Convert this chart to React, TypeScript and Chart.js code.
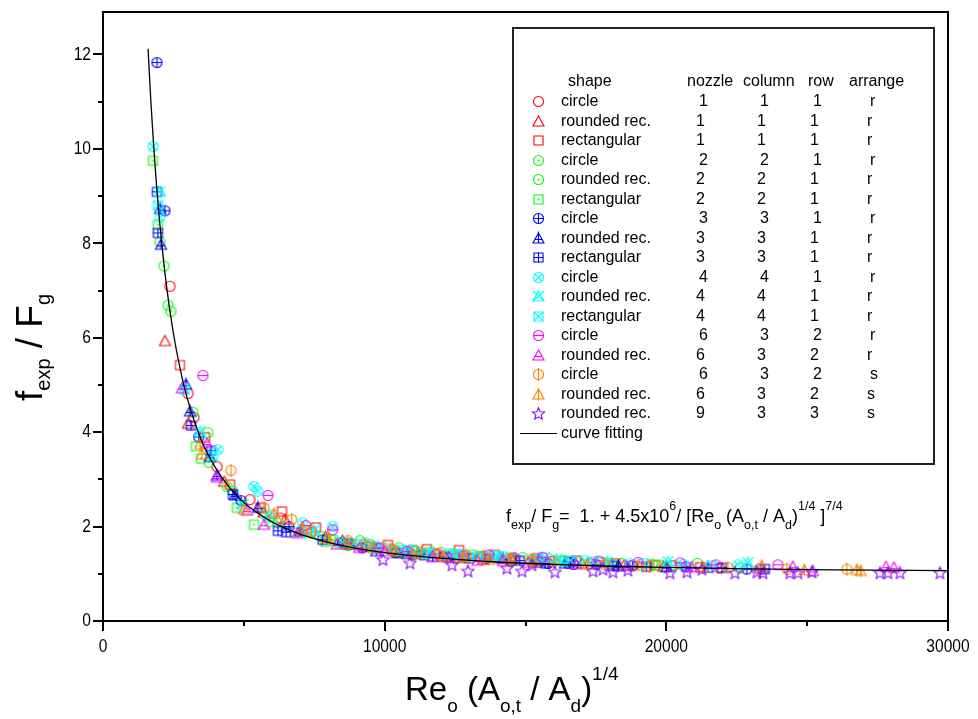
import React, { useEffect, useRef } from 'react';
import { Chart, registerables } from 'chart.js';
Chart.register(...registerables);

// ---------- axis ticks ----------
const xMajorTicks = [0, 10000, 20000, 30000];
const xMinorTicks = [5000, 15000, 25000];
const yMajorTicks = [0, 2, 4, 6, 8, 10, 12];
const yMinorTicks = [1, 3, 5, 7, 9, 11];

// ---------- legend table ----------
const legendShape = ['circle', 'rounded rec.', 'rectangular', 'circle', 'rounded rec.', 'rectangular', 'circle', 'rounded rec.', 'rectangular', 'circle', 'rounded rec.', 'rectangular', 'circle', 'rounded rec.', 'circle', 'rounded rec.', 'rounded rec.'];
const legendNozzle = ['1', '1', '1', '2', '2', '2', '3', '3', '3', '4', '4', '4', '6', '6', '6', '6', '9'];
const legendColumn = ['1', '1', '1', '2', '2', '2', '3', '3', '3', '4', '4', '4', '3', '3', '3', '3', '3'];
const legendRow = ['1', '1', '1', '1', '1', '1', '1', '1', '1', '1', '1', '1', '2', '2', '2', '2', '3'];
const legendArrange = ['r', 'r', 'r', 'r', 'r', 'r', 'r', 'r', 'r', 'r', 'r', 'r', 'r', 'r', 's', 's', 's'];

// ---------- data (x, y) ----------
const redCircle = [[2378, 7.09], [3017, 4.82], [3230, 4.31], [4047, 3.27], [5218, 2.57], [6300, 2.18], [7400, 1.88], [8600, 1.62], [9400, 1.58], [10300, 1.5], [11800, 1.42], [12500, 1.33], [13400, 1.36], [14600, 1.3], [15900, 1.26], [16500, 1.22], [17300, 1.22], [18800, 1.18], [20200, 1.17], [21900, 1.12], [23300, 1.1]];
const redTriangle = [[2200, 5.93], [3017, 4.18], [4300, 2.95], [5700, 2.3], [6461, 2.15], [7900, 1.78], [8500, 1.7], [9300, 1.58], [10500, 1.46], [11200, 1.44], [12600, 1.38], [13500, 1.3], [14100, 1.33], [15500, 1.28], [17000, 1.22], [18500, 1.18], [19900, 1.15]];
const redSquare = [[2733, 5.42], [3620, 3.89], [4508, 2.89], [5600, 2.4], [6354, 2.32], [7562, 1.98], [8800, 1.62], [9500, 1.57], [10117, 1.61], [11000, 1.5], [11500, 1.52], [12637, 1.5], [13900, 1.4], [14500, 1.33], [15400, 1.33], [16800, 1.28], [18200, 1.22], [19600, 1.18], [21200, 1.14]];
const greenCircle = [[2024, 8.03], [2165, 7.52], [2307, 6.69], [2414, 6.56], [3195, 4.42], [3763, 3.36], [4402, 2.85], [5900, 2.1], [7200, 1.92], [8200, 1.72], [8700, 1.6], [9124, 1.7], [10500, 1.55], [11300, 1.4], [12000, 1.45], [13500, 1.38], [14900, 1.34], [15300, 1.27], [16400, 1.28], [18000, 1.22], [19500, 1.2], [21100, 1.22], [22600, 1.12]];
const greenRounded = [[3727, 3.99], [4600, 2.75], [6200, 2.08], [7700, 1.8], [8100, 1.72], [9500, 1.62], [10400, 1.45], [11000, 1.48], [12400, 1.42], [13800, 1.35], [14600, 1.29], [15300, 1.3], [16900, 1.25], [18400, 1.22], [20300, 1.18]];
const greenSquare = [[1775, 9.75], [1950, 8.39], [3301, 3.7], [3479, 3.44], [4757, 2.4], [5360, 2.04], [6800, 1.88], [7900, 1.68], [8400, 1.65], [9900, 1.55], [10700, 1.44], [11600, 1.46], [12600, 1.38], [13100, 1.4], [14500, 1.32], [16200, 1.28], [17700, 1.24], [19703, 1.19]];
const blueCircle = [[1917, 11.83], [2200, 8.69], [3400, 3.9], [4900, 2.55], [6600, 2.0], [8500, 1.66], [9200, 1.55], [10400, 1.45], [11000, 1.4], [12200, 1.35], [13600, 1.32], [14500, 1.27], [15800, 1.22], [16700, 1.2], [17500, 1.2], [18800, 1.17], [20700, 1.15], [22861, 1.1]];
const blueRounded = [[2024, 8.73], [2060, 7.97], [2946, 5.01], [3088, 4.44], [3798, 3.48], [4047, 3.08], [4686, 2.66], [5502, 2.4], [7000, 1.9], [8800, 1.62], [9700, 1.48], [10800, 1.42], [11700, 1.36], [12800, 1.34], [14200, 1.32], [15400, 1.24], [16400, 1.22], [18300, 1.16], [20000, 1.14], [21477, 1.13]];
const blueSquare = [[1917, 9.09], [1950, 8.22], [3124, 4.14], [3833, 3.61], [4615, 2.68], [6212, 1.91], [6500, 1.88], [7800, 1.72], [8700, 1.64], [9700, 1.54], [10400, 1.44], [11400, 1.4], [12100, 1.36], [13000, 1.33], [14800, 1.28], [15700, 1.22], [16600, 1.25], [18100, 1.17], [19300, 1.15], [21974, 1.13], [23500, 1.1]];
const cyanCircle = [[1775, 10.05], [2024, 8.56], [4082, 3.63], [5360, 2.85], [5500, 2.75], [7090, 2.08], [8154, 2.0], [9300, 1.66], [10200, 1.5], [11100, 1.48], [12283, 1.42], [13000, 1.36], [13900, 1.38], [15500, 1.32], [16300, 1.26], [17100, 1.28], [18700, 1.22], [20600, 1.2], [22542, 1.19]];
const cyanRounded = [[2024, 9.09], [3444, 4.01], [4970, 2.46], [6000, 2.2], [7500, 1.92], [8500, 1.66], [9585, 1.59], [10900, 1.5], [11600, 1.44], [12700, 1.42], [13500, 1.37], [14300, 1.35], [15300, 1.31], [16100, 1.3], [17900, 1.25], [20058, 1.25], [22897, 1.23]];
const cyanSquare = [[1950, 8.8], [2900, 4.9], [3900, 3.5], [5800, 2.25], [7300, 1.86], [8900, 1.64], [9700, 1.54], [10600, 1.5], [11500, 1.42], [12500, 1.4], [13300, 1.36], [14000, 1.38], [15700, 1.35], [16600, 1.28], [17400, 1.26], [19200, 1.22], [21600, 1.18]];
const magentaCircle = [[3550, 5.2], [5857, 2.66], [7200, 2.02], [8154, 1.93], [9800, 1.55], [10800, 1.47], [11900, 1.42], [12800, 1.38], [13700, 1.4], [14600, 1.34], [15600, 1.35], [17600, 1.27], [19000, 1.24], [20484, 1.23], [21761, 1.19], [23962, 1.19]];
const magentaRounded = [[2800, 4.93], [3691, 3.76], [4047, 3.04], [5111, 2.34], [5715, 2.04], [6900, 1.86], [8300, 1.62], [9100, 1.55], [10000, 1.48], [11700, 1.36], [12300, 1.35], [13300, 1.28], [14200, 1.27], [15100, 1.24], [16800, 1.2], [18600, 1.16], [20900, 1.14], [24494, 1.15], [25204, 1.06], [27797, 1.15], [28081, 1.13]];
const orangeCircle = [[4544, 3.19], [5715, 2.4], [6700, 2.15], [7400, 1.9], [8700, 1.7], [9300, 1.62], [10200, 1.52], [11300, 1.45], [11900, 1.42], [12900, 1.38], [13500, 1.36], [14400, 1.3], [15200, 1.29], [16000, 1.26], [17800, 1.2], [19400, 1.16], [22187, 1.13], [24282, 1.1], [26411, 1.1]];
const orangeRounded = [[3444, 3.74], [3514, 3.53], [5005, 2.36], [6070, 2.27], [7100, 1.96], [8000, 1.75], [8700, 1.62], [9600, 1.55], [10400, 1.48], [11000, 1.42], [12100, 1.36], [12800, 1.34], [13700, 1.3], [14500, 1.3], [15300, 1.26], [17200, 1.2], [19000, 1.18], [21300, 1.14], [23394, 1.17], [24900, 1.08], [26766, 1.08], [26900, 1.06]];
const violetStar = [[9940, 1.3], [10899, 1.23], [12390, 1.19], [12957, 1.06], [14342, 1.12], [14875, 1.06], [15230, 1.19], [16046, 1.04], [17395, 1.06], [17750, 1.1], [18105, 1.04], [18638, 1.08], [20129, 1.02], [20732, 1.04], [21264, 1.1], [22436, 1.02], [23217, 1.04], [23430, 1.02], [24388, 1.02], [24672, 1.02], [25169, 1.04], [27584, 1.02], [27868, 1.02], [28294, 1.02], [29714, 1.02]];
const curveFit = [[1600, 12.12], [1700, 11.0], [1800, 10.05], [1900, 9.23], [2000, 8.52], [2250, 7.12], [2500, 6.09], [2750, 5.31], [3000, 4.7], [3500, 3.82], [4000, 3.24], [4500, 2.82], [5000, 2.51], [6000, 2.1], [7000, 1.84], [8000, 1.665], [9000, 1.54], [10000, 1.45], [12000, 1.33], [14000, 1.25], [16000, 1.2], [18000, 1.16], [20000, 1.134], [23000, 1.105], [26000, 1.085], [30000, 1.066]];

const RED = '#ff0000', GREEN = '#00ff00', BLUE = '#0000ff', CYAN = '#00ffff', MAGENTA = '#ff00ff', ORANGE = '#ff8000', VIOLET = '#8000ff';

const seriesDefs = [
  { data: redCircle, color: RED, shape: 'circle', mark: '' },
  { data: redTriangle, color: RED, shape: 'tri', mark: '' },
  { data: redSquare, color: RED, shape: 'sq', mark: '' },
  { data: greenCircle, color: GREEN, shape: 'circle', mark: 'dot' },
  { data: greenRounded, color: GREEN, shape: 'circle', mark: 'dot' },
  { data: greenSquare, color: GREEN, shape: 'sq', mark: 'dot' },
  { data: blueCircle, color: BLUE, shape: 'circle', mark: 'plus' },
  { data: blueRounded, color: BLUE, shape: 'tri', mark: 'plus' },
  { data: blueSquare, color: BLUE, shape: 'sq', mark: 'plus' },
  { data: cyanCircle, color: CYAN, shape: 'circle', mark: 'x' },
  { data: cyanRounded, color: CYAN, shape: 'tri', mark: 'x' },
  { data: cyanSquare, color: CYAN, shape: 'sq', mark: 'x' },
  { data: magentaCircle, color: MAGENTA, shape: 'circle', mark: 'h' },
  { data: magentaRounded, color: MAGENTA, shape: 'tri', mark: 'h' },
  { data: orangeCircle, color: ORANGE, shape: 'circle', mark: 'v' },
  { data: orangeRounded, color: ORANGE, shape: 'tri', mark: 'v' },
  { data: violetStar, color: VIOLET, shape: 'star', mark: '' },
];

function makeMarker(shape: string, mark: string, color: string): HTMLCanvasElement {
  const S = 15;
  const c = 7.5;
  const cv = document.createElement('canvas');
  cv.width = S; cv.height = S;
  const ctx = cv.getContext('2d')!;
  ctx.strokeStyle = color; ctx.fillStyle = color; ctx.lineWidth = 1.1;
  ctx.beginPath();
  if (shape === 'circle') {
    ctx.arc(c, c, 5, 0, Math.PI * 2);
  } else if (shape === 'tri') {
    ctx.moveTo(c, c - 5.5); ctx.lineTo(c + 5.5, c + 4.5); ctx.lineTo(c - 5.5, c + 4.5); ctx.closePath();
  } else if (shape === 'sq') {
    ctx.rect(c - 4.5, c - 4.5, 9, 9);
  } else if (shape === 'star') {
    for (let i = 0; i < 10; i++) {
      const r = i % 2 === 0 ? 6.3 : 2.8;
      const a = -Math.PI / 2 + i * Math.PI / 5;
      const px = c + r * Math.cos(a), py = c + 0.5 + r * Math.sin(a);
      if (i === 0) ctx.moveTo(px, py); else ctx.lineTo(px, py);
    }
    ctx.closePath();
  }
  ctx.stroke();
  ctx.beginPath();
  if (mark === 'dot') {
    ctx.arc(c, c, 1, 0, Math.PI * 2); ctx.fill();
  } else if (mark === 'plus') {
    if (shape === 'tri') {
      ctx.moveTo(c, c - 7); ctx.lineTo(c, c + 4.5);
      ctx.moveTo(c - 4, c + 1); ctx.lineTo(c + 4, c + 1);
    } else {
      ctx.moveTo(c - 5, c); ctx.lineTo(c + 5, c);
      ctx.moveTo(c, c - 5); ctx.lineTo(c, c + 5);
    }
    ctx.stroke();
  } else if (mark === 'x') {
    if (shape === 'tri') {
      ctx.moveTo(c - 5.5, c - 5.5); ctx.lineTo(c + 5.5, c + 4.5);
      ctx.moveTo(c + 5.5, c - 5.5); ctx.lineTo(c - 5.5, c + 4.5);
    } else if (shape === 'sq') {
      ctx.moveTo(c - 4.5, c - 4.5); ctx.lineTo(c + 4.5, c + 4.5);
      ctx.moveTo(c + 4.5, c - 4.5); ctx.lineTo(c - 4.5, c + 4.5);
    } else {
      ctx.moveTo(c - 3.5, c - 3.5); ctx.lineTo(c + 3.5, c + 3.5);
      ctx.moveTo(c + 3.5, c - 3.5); ctx.lineTo(c - 3.5, c + 3.5);
    }
    ctx.stroke();
  } else if (mark === 'h') {
    if (shape === 'tri') { ctx.moveTo(c - 3.5, c + 1); ctx.lineTo(c + 3.5, c + 1); }
    else { ctx.moveTo(c - 5, c); ctx.lineTo(c + 5, c); }
    ctx.stroke();
  } else if (mark === 'v') {
    if (shape === 'tri') { ctx.moveTo(c, c - 6.5); ctx.lineTo(c, c + 6); }
    else { ctx.moveTo(c, c - 6.5); ctx.lineTo(c, c + 6.5); }
    ctx.stroke();
  }
  return cv;
}

type Part = { t: string; k?: 'sub' | 'sup' };
const FAMILY = '"Liberation Sans", Arial, sans-serif';
function drawRich(ctx: CanvasRenderingContext2D, x: number, y: number, parts: Part[], size: number, subSize: number, subDy: number, supDy: number) {
  let cx = x;
  for (const p of parts) {
    const sz = p.k ? subSize : size;
    ctx.font = `${sz}px ${FAMILY}`;
    const dy = p.k === 'sub' ? subDy : p.k === 'sup' ? supDy : 0;
    ctx.fillText(p.t, cx, y + dy);
    cx += ctx.measureText(p.t).width;
  }
  return cx;
}
// condensed label (imitates a narrow sans face)
function drawNarrow(ctx: CanvasRenderingContext2D, text: string, x: number, y: number, align: 'center' | 'right') {
  const sx = 0.82;
  ctx.save();
  ctx.font = `19px ${FAMILY}`;
  ctx.textBaseline = 'middle';
  const w = ctx.measureText(text).width * sx;
  const x0 = align === 'center' ? x - w / 2 : x - w;
  ctx.translate(x0, y);
  ctx.scale(sx, 1);
  ctx.textAlign = 'left';
  ctx.fillText(text, 0, 0);
  ctx.restore();
}

const xTitle: Part[] = [{ t: 'Re' }, { t: 'o', k: 'sub' }, { t: ' (A' }, { t: 'o,t', k: 'sub' }, { t: ' / A' }, { t: 'd', k: 'sub' }, { t: ')' }, { t: '1/4', k: 'sup' }];
const yTitle: Part[] = [{ t: 'f' }, { t: 'exp', k: 'sub' }, { t: ' / F' }, { t: 'g', k: 'sub' }];
const equation: Part[] = [{ t: 'f' }, { t: 'exp', k: 'sub' }, { t: '/ F' }, { t: 'g', k: 'sub' }, { t: '=  1. + 4.5x10' }, { t: '6', k: 'sup' }, { t: '/ [Re' }, { t: 'o', k: 'sub' }, { t: ' (A' }, { t: 'o,t', k: 'sub' }, { t: ' / A' }, { t: 'd', k: 'sub' }, { t: ')' }, { t: '1/4', k: 'sup' }, { t: ' ]' }, { t: '7/4', k: 'sup' }];

export default function App() {
  const ref = useRef<HTMLCanvasElement>(null);
  useEffect(() => {
    const canvas = ref.current!;
    const markers = seriesDefs.map((s) => makeMarker(s.shape, s.mark, s.color));
    const datasets: any[] = [
      {
        type: 'line', data: curveFit.map(([x, y]) => ({ x, y })), borderColor: '#000', borderWidth: 1.3,
        pointRadius: 0, showLine: true, fill: false, cubicInterpolationMode: 'monotone', order: 0,
      },
      ...seriesDefs.map((s, i) => ({
        type: 'scatter', data: s.data.map(([x, y]) => ({ x, y })), pointStyle: markers[i],
        pointRadius: 5, borderColor: s.color, backgroundColor: 'transparent', order: 100 - i,
      })),
    ];

    const decor = {
      id: 'decor',
      afterDraw(chart: any) {
        const ctx: CanvasRenderingContext2D = chart.ctx;
        const { left, right, top, bottom } = chart.chartArea;
        const xs = chart.scales.x, ys = chart.scales.y;
        ctx.save();
        ctx.strokeStyle = '#000';
        ctx.lineWidth = 2;
        ctx.strokeRect(left, top, right - left, bottom - top);
        ctx.beginPath();
        xMajorTicks.forEach((v) => { const p = Math.round(xs.getPixelForValue(v)); ctx.moveTo(p, bottom); ctx.lineTo(p, bottom + 10); });
        xMinorTicks.forEach((v) => { const p = Math.round(xs.getPixelForValue(v)); ctx.moveTo(p, bottom); ctx.lineTo(p, bottom + 5); });
        yMajorTicks.forEach((v) => { const p = Math.round(ys.getPixelForValue(v)); ctx.moveTo(left, p); ctx.lineTo(left - 10, p); });
        yMinorTicks.forEach((v) => { const p = Math.round(ys.getPixelForValue(v)); ctx.moveTo(left, p); ctx.lineTo(left - 5, p); });
        ctx.stroke();

        // tick labels
        ctx.fillStyle = '#000';
        xMajorTicks.forEach((v) => drawNarrow(ctx, String(v), xs.getPixelForValue(v), bottom + 26, 'center'));
        yMajorTicks.forEach((v) => drawNarrow(ctx, String(v), left - 12, ys.getPixelForValue(v), 'right'));

        // legend box
        const bx = 513, by = 28, bw = 421, bh = 436;
        ctx.fillStyle = '#fff';
        ctx.fillRect(bx, by, bw, bh);
        ctx.lineWidth = 2;
        ctx.strokeStyle = '#222';
        ctx.strokeRect(bx, by, bw, bh);
        ctx.fillStyle = '#000';
        ctx.textBaseline = 'middle';
        ctx.font = `16px ${FAMILY}`;
        const hy = 82;
        ctx.fillText('shape', 568, hy);
        ctx.fillText('nozzle', 687, hy);
        ctx.fillText('column', 743, hy);
        ctx.fillText('row', 808, hy);
        ctx.fillText('arrange', 849, hy);
        const rowH = 19.5;
        legendShape.forEach((name, i) => {
          const y = 101.7 + i * rowH;
          const off = name === 'circle' ? 3 : 0;
          const m = markers[i];
          ctx.drawImage(m, Math.round(538 - m.width / 2), Math.round(y - m.height / 2));
          ctx.fillText(name, 561, y);
          ctx.fillText(legendNozzle[i], 696 + off, y);
          ctx.fillText(legendColumn[i], 757 + off, y);
          ctx.fillText(legendRow[i], 810 + off, y);
          ctx.fillText(legendArrange[i], 867 + off, y);
        });
        const ly = 101.7 + 17 * rowH;
        ctx.beginPath();
        ctx.lineWidth = 1.2;
        ctx.strokeStyle = '#000';
        ctx.moveTo(520, Math.round(ly) + 0.5); ctx.lineTo(557, Math.round(ly) + 0.5);
        ctx.stroke();
        ctx.fillText('curve fitting', 561, ly);

        // equation
        ctx.textBaseline = 'alphabetic';
        drawRich(ctx, 506, 522, equation, 18, 12.5, 7, -12);

        // x title
        drawRich(ctx, 405, 700, xTitle, 33, 19, 12, -20);
        // y title
        ctx.save();
        ctx.translate(42, 401);
        ctx.rotate(-Math.PI / 2);
        drawRich(ctx, 0, 0, yTitle, 37, 20, 8, -18);
        ctx.restore();
        ctx.restore();
      },
    };

    const zeroPad = (s: any) => { s.paddingTop = 0; s.paddingBottom = 0; s.paddingLeft = 0; s.paddingRight = 0; };
    const chart = new Chart(canvas, {
      type: 'scatter',
      data: { datasets },
      options: {
        animation: false,
        responsive: false,
        layout: { padding: { left: 0, top: 12, right: 30, bottom: 0 } },
        plugins: { legend: { display: false }, tooltip: { enabled: false } },
        scales: {
          x: {
            type: 'linear', min: 0, max: 30000,
            afterFit: (s: any) => { s.height = 98; zeroPad(s); },
            grid: { display: false, drawTicks: false },
            border: { display: false },
            ticks: { display: false, stepSize: 10000 },
          },
          y: {
            type: 'linear', min: 0, max: 12.9,
            afterFit: (s: any) => { s.width = 103; zeroPad(s); },
            grid: { display: false, drawTicks: false },
            border: { display: false },
            ticks: { display: false, stepSize: 2 },
          },
        },
      },
      plugins: [decor],
    } as any);
    return () => chart.destroy();
  }, []);
  return (
    <canvas ref={ref} width={978} height={719} style={{ position: 'absolute', left: 0, top: 0, width: 978, height: 719, background: '#fff' }} />
  );
}
